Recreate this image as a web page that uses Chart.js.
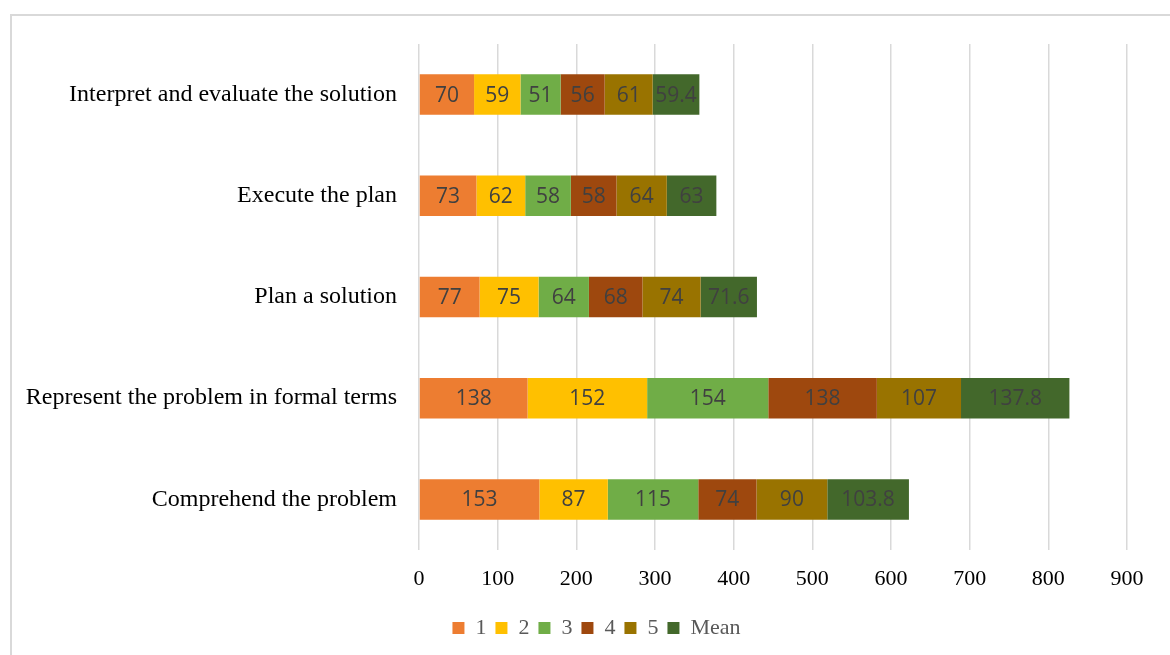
<!DOCTYPE html>
<html>
<head>
<meta charset="utf-8">
<script src="https://cdn.jsdelivr.net/npm/chart.js@4"></script>
<style>
  html, body { margin: 0; padding: 0; background: #fff; overflow: hidden; }
  #frame { position: absolute; left: 10px; top: 14px; width: 1200px; height: 700px; border: 2px solid #d9d9d9; box-sizing: border-box; }
  #wrap { position: absolute; left: 0; top: 0; width: 1170px; height: 655px; }
</style>
</head>
<body>
<div id="frame"></div>
<div id="wrap"><canvas id="chart"></canvas></div>
<script>
// categories listed top to bottom
const stages = [
  "Interpret and evaluate the solution",
  "Execute the plan",
  "Plan a solution",
  "Represent the problem in formal terms",
  "Comprehend the problem"
];
const series1 = [70, 73, 77, 138, 153];
const series2 = [59, 62, 75, 152, 87];
const series3 = [51, 58, 64, 154, 115];
const series4 = [56, 58, 68, 138, 74];
const series5 = [61, 64, 74, 107, 90];
const seriesMean = [59.4, 63, 71.6, 137.8, 103.8];
const xTicks = [0, 100, 200, 300, 400, 500, 600, 700, 800, 900];

const serif = "'Liberation Serif', 'Times New Roman', serif";

// draw the value in the middle of each segment
const segmentLabels = {
  id: "segmentLabels",
  afterDatasetsDraw(chart) {
    const ctx = chart.ctx;
    ctx.save();
    ctx.font = "21px 'Open Sans', sans-serif";
    ctx.fillStyle = "#404040";
    ctx.textAlign = "center";
    ctx.textBaseline = "middle";
    chart.data.datasets.forEach((ds, i) => {
      const meta = chart.getDatasetMeta(i);
      if (meta.hidden) return;
      meta.data.forEach((bar, j) => {
        const cx = (bar.x + bar.base) / 2;
        ctx.fillText(String(ds.data[j]), cx, bar.y + 1);
      });
    });
    ctx.restore();
  }
};

// legend sits a bit right of the canvas centre in the original
const legendShift = {
  id: "legendShift",
  afterLayout(chart) {
    chart.legend.left += 28;
    chart.legend.right += 28;
  }
};

const mk = (label, data, color) => ({
  label: label,
  data: data,
  backgroundColor: color,
  borderWidth: 0,
  barPercentage: 0.4,
  categoryPercentage: 1
});

new Chart(document.getElementById("chart"), {
  type: "bar",
  data: {
    labels: stages,
    datasets: [
      mk("1", series1, "#ED7D31"),
      mk("2", series2, "#FFC000"),
      mk("3", series3, "#70AD47"),
      mk("4", series4, "#9E480E"),
      mk("5", series5, "#997300"),
      mk("Mean", seriesMean, "#43682B")
    ]
  },
  options: {
    indexAxis: "y",
    responsive: true,
    maintainAspectRatio: false,
    animation: false,
    layout: { padding: { left: 10, right: 43, top: 44, bottom: 6 } },
    scales: {
      x: {
        stacked: true,
        min: 0,
        max: 900,
        afterBuildTicks: (s) => { s.ticks = xTicks.map(v => ({ value: v })); },
        afterFit: (s) => { s.height = 58; },
        grid: { color: "#d9d9d9", lineWidth: 1.5, drawTicks: false },
        border: { display: false },
        ticks: { color: "#000", font: { family: serif, size: 22 }, padding: 16 }
      },
      y: {
        stacked: true,
        afterFit: (s) => { s.width = 409; },
        grid: { display: false, drawTicks: false },
        border: { display: false },
        ticks: { color: "#000", font: { family: serif, size: 24 }, padding: 22 }
      }
    },
    plugins: {
      legend: {
        position: "bottom",
        labels: {
          color: "#595959",
          font: { family: serif, size: 22 },
          boxWidth: 12,
          boxHeight: 12,
          padding: 9
        }
      },
      tooltip: { enabled: false }
    }
  },
  plugins: [segmentLabels, legendShift]
});
</script>
</body>
</html>
